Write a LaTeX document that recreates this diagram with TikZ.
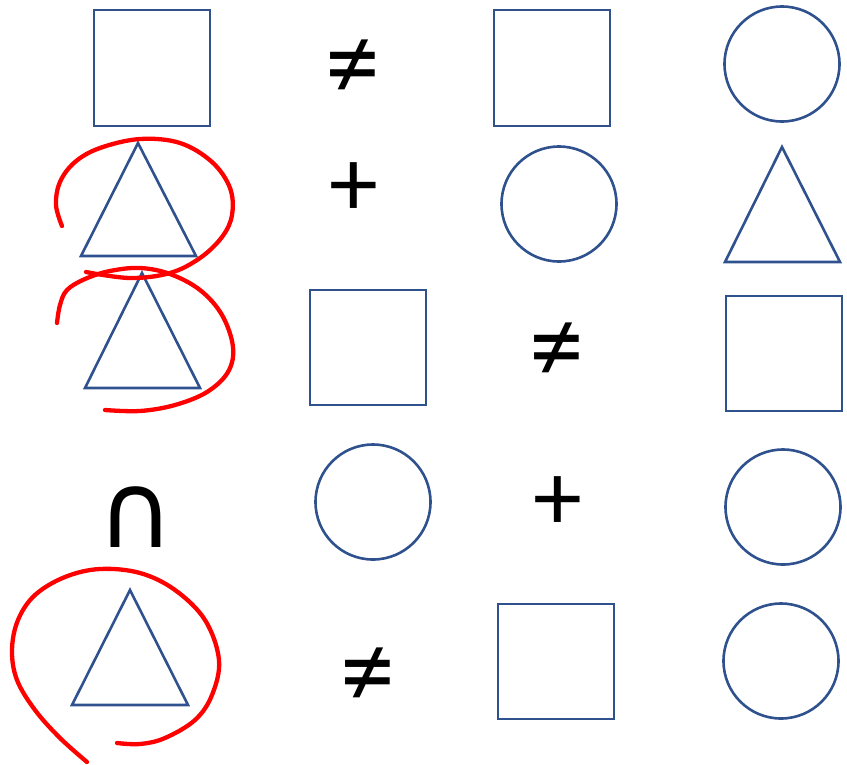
\documentclass[tikz,border=0pt]{standalone}
\usepackage{fontspec}
\newfontfamily\symfont{Carlito}
\newfontfamily\capfont{DejaVu Sans}
\definecolor{shapeblue}{HTML}{2F528F}
\definecolor{markred}{HTML}{FF0000}
\tikzset{
  shp/.style={draw=shapeblue, line width=2.6pt, line join=miter},
  redloop/.style={draw=markred, line width=4.3pt, line cap=round, line join=round},
  sym/.style={inner sep=0pt, font=\symfont\fontsize{110}{110}\selectfont},
  plussym/.style={inner sep=0pt, font=\symfont\fontsize{98}{98}\selectfont},
  capsym/.style={inner sep=0pt, font=\capfont\fontsize{105}{105}\selectfont}
}
\begin{document}
\begin{tikzpicture}[x=1pt,y=-1pt]
\useasboundingbox (0,0) rectangle (847,764);
% row 1
\draw[shp] (94,10) rectangle (210,126);
\node[sym] (ne1) at (353,70) {≠};
\draw[shp] (494,10) rectangle (610,126);
\draw[shp] (782,64) circle (57.5);
% row 2
\draw[shp] (138,143) -- (196,256) -- (81,256) -- cycle;
\node[plussym] (pl1) at (353.5,190) {+};
\draw[shp] (559,204) circle (57.5);
\draw[shp] (782,147) -- (840,262) -- (725,262) -- cycle;
% row 3
\draw[shp] (142,273) -- (200,388) -- (85,388) -- cycle;
\draw[shp] (310,290) rectangle (426,405);
\node[sym] (ne2) at (557,353) {≠};
\draw[shp] (726,296) rectangle (842,411);
% row 4
\node[capsym] (cap) at (135.5,517) {∩};
\draw[shp] (373,502) circle (57.5);
\node[plussym] (pl2) at (557.5,503.5) {+};
\draw[shp] (783,507) circle (57.5);
% row 5
\draw[shp] (130,590) -- (188,705) -- (72,705) -- cycle;
\node[sym] (ne3) at (368,678) {≠};
\draw[shp] (498,604) rectangle (614,719);
\draw[shp] (781,661) circle (57.5);
% red marks
\draw[redloop] plot[smooth, tension=0.6] coordinates {(62,226) (56,205) (60,182) (75,162) (100,148) (140,139) (180,143) (212,162) (230,188) (232,215) (222,237) (200,258) (170,273) (130,278) (86,272)};
\draw[redloop] plot[smooth, tension=0.6] coordinates {(57,323) (60,305) (67,290) (85,279) (110,271) (140,268) (170,274) (200,290) (222,315) (233,347) (228,372) (207,392) (175,405) (140,411) (105,410)};
\draw[redloop] plot[smooth, tension=0.6] coordinates {(87,762) (60,738) (35,710) (17,680) (12,650) (18,620) (35,595) (65,577) (100,569) (140,573) (175,590) (205,620) (219,660) (212,695) (195,720) (165,738) (140,744) (117,743)};
\end{tikzpicture}
\end{document}
